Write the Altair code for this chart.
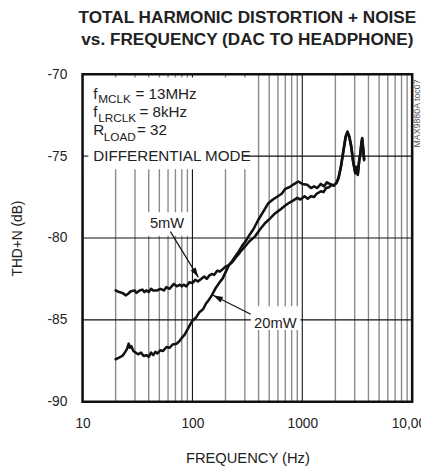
import altair as alt
import pandas as pd

# ---------------- data ----------------
freq_5mw = [20, 21.5, 23, 24.7, 26, 27.5, 29.7, 31, 33, 35, 36.5, 38, 40, 42, 44, 47.7, 51, 55, 58, 62,
            67.7, 72, 77, 80, 83, 88, 94, 100, 106, 112, 120, 128, 135, 142, 150, 158, 168, 178, 189,
            200, 215, 232, 247, 262, 280, 303, 330, 372, 410, 457, 510, 564, 620, 690, 760, 830, 899,
            960, 1050, 1120, 1195, 1280, 1350, 1475, 1560, 1650, 1750, 1849, 1931, 2050, 2138, 2250,
            2371, 2480, 2576, 2680, 2795, 2900, 3034, 3100, 3200, 3300, 3363, 3450, 3508, 3580, 3652]
thd_5mw = [-83.2, -83.3, -83.35, -83.5, -83.4, -83.25, -83.2, -83.35, -83.2, -83.15, -83.3, -83.2,
           -83.3, -83.1, -83.2, -83.2, -83.1, -83.2, -83.0, -83.1, -82.8, -82.95, -82.85, -82.95,
           -82.85, -82.95, -82.7, -82.75, -82.55, -82.65, -82.5, -82.35, -82.5, -82.3, -82.2, -82.25,
           -82.0, -82.05, -81.9, -81.75, -81.65, -81.45, -81.2, -81.0, -80.75, -80.5, -80.2, -79.9,
           -79.5, -79.1, -78.8, -78.5, -78.3, -78.05, -77.85, -77.7, -77.55, -77.65, -77.45, -77.6,
           -77.45, -77.5, -77.3, -77.15, -77.2, -76.95, -76.9, -76.75, -76.8, -76.65, -76.35, -75.65,
           -74.7, -73.85, -73.55, -73.85, -74.5, -75.35, -76.05, -75.65, -76.15, -75.25, -74.95,
           -74.25, -73.95, -74.55, -75.25]

freq_20mw = [20, 21.5, 23, 24.2, 25.3, 26.3, 27, 27.8, 29, 30.5, 32, 34, 36, 38, 40, 42, 44, 46, 48,
             51, 54, 58, 62, 66, 72, 76, 80, 85, 90, 95, 100, 108, 115, 125, 133, 142, 150, 163, 175,
             189, 200, 213, 230, 247, 265, 285, 305, 324, 360, 397, 440, 488, 540, 600, 649, 700, 760,
             848, 920, 1000, 1108, 1200, 1279, 1370, 1475, 1580, 1672, 1780, 1931, 2050, 2138, 2250,
             2371, 2480, 2576, 2680, 2795, 2900, 3034, 3100, 3200, 3300, 3363, 3450, 3508, 3580, 3652]
thd_20mw = [-87.4, -87.3, -87.2, -87.0, -86.8, -86.45, -86.7, -86.6, -86.9, -87.0, -87.1, -87.0,
            -87.2, -87.15, -87.25, -87.0, -87.15, -86.95, -87.05, -86.85, -86.9, -86.65, -86.7, -86.5,
            -86.45, -86.3, -86.1, -85.9, -85.6, -85.3, -85.05, -84.85, -84.55, -84.35, -84.0, -83.75,
            -83.5, -83.05, -82.75, -82.45, -82.1, -81.7, -81.4, -81.1, -80.8, -80.45, -80.2, -79.9,
            -79.45, -78.9, -78.4, -77.9, -77.65, -77.45, -77.3, -77.0, -76.9, -76.7, -76.55, -76.7,
            -76.75, -76.95, -76.85, -76.95, -76.7, -76.85, -76.6, -76.7, -76.8, -76.6, -76.3, -75.6,
            -74.6, -73.8, -73.5, -73.8, -74.4, -75.3, -76.0, -75.7, -76.1, -75.2, -74.9, -74.2, -73.9,
            -74.5, -75.2]

x_ticks = [10, 100, 1000, 10000]
y_ticks = [-70, -75, -80, -85, -90]
minor_freqs = [20, 30, 40, 50, 60, 70, 80, 90, 200, 300, 400, 500, 600, 700, 800, 900,
               2000, 3000, 4000, 5000, 6000, 7000, 8000, 9000]
major_freqs = [100, 1000]

# horizontal grid segments (broken where the labels sit)
hgrid_y = [-75, -75, -80, -85, -85]
hgrid_x0 = [10, 294, 10, 10, 960]
hgrid_x1 = [11.3, 10000, 10000, 340, 10000]

# white label backgrounds
box_x0 = [10, 35, 340]
box_x1 = [360, 95, 960]
box_y0 = [-70.2, -78.43, -84.17]
box_y1 = [-75.8, -79.87, -85.61]

# conditions text (text, freq, dB baseline, size)
cond_text = ["f", "MCLK", "= 13MHz", "f", "LRCLK", "= 8kHz", "R", "LOAD", "= 32", "DIFFERENTIAL MODE"]
cond_f = [12.54, 13.9, 30.3, 12.54, 13.9, 32.9, 12.54, 15.6, 31.3, 12.54]
cond_db = [-71.5, -71.75, -71.5, -72.63, -72.93, -72.63, -73.73, -74.05, -73.73, -75.32]
cond_size = [15.5, 12, 15.5, 15.5, 12, 15.5, 15.5, 12, 15.5, 15.5]

# series labels and arrows
lab_text = ["5mW", "20mW"]
lab_f = [58.8, 568]
lab_db = [-79.39, -85.49]
arr_f0 = [63.0, 339.6]
arr_db0 = [-79.61, -84.65]
arr_f1 = [113.2, 154.2]
arr_db1 = [-82.40, -83.50]
arr_angle = [148.6, 296.7]

# ---------------- tables ----------------
curves = pd.concat([
    pd.DataFrame({"f": freq_5mw, "db": thd_5mw, "s": "5mW"}),
    pd.DataFrame({"f": freq_20mw, "db": thd_20mw, "s": "20mW"}),
])
minor_df = pd.DataFrame({"f": minor_freqs})
major_df = pd.DataFrame({"f": major_freqs})
hgrid_df = pd.DataFrame({"y": hgrid_y, "x0": hgrid_x0, "x1": hgrid_x1})
box_df = pd.DataFrame({"x0": box_x0, "x1": box_x1, "y0": box_y0, "y1": box_y1})
cond_df = pd.DataFrame({"t": cond_text, "f": cond_f, "db": cond_db, "size": cond_size})
lab_df = pd.DataFrame({"t": lab_text, "f": lab_f, "db": lab_db})
arr_df = pd.DataFrame({"x0": arr_f0, "y0": arr_db0, "x1": arr_f1, "y1": arr_db1, "a": arr_angle})
wm_df = pd.DataFrame({"t": ["MAX9880A toc07"], "f": [11070], "db": [-72.4]})

FONT = "Liberation Sans"
xs = alt.Scale(type="log", domain=[10, 10000], nice=False)
ys = alt.Scale(domain=[-90, -70], nice=False)

x_axis = alt.Axis(values=x_ticks, labelExpr="datum.value == 10000 ? '10,000' : toString(datum.value)",
                  labelFlush=False, ticks=False, domain=False, grid=False, labelFontSize=14,
                  labelColor="#222", labelPadding=15, labelFont=FONT,
                  title="FREQUENCY (Hz)", titleFontSize=15, titleFontWeight="normal", titleColor="#222",
                  titleFont=FONT, titleY=62, titleBaseline="alphabetic")
y_axis = alt.Axis(values=y_ticks, labelExpr="toString(datum.value)", ticks=False, domain=False,
                  grid=False, labelFontSize=14, labelColor="#222", labelPadding=16, labelFont=FONT,
                  title="THD+N (dB)", titleFontSize=14, titleFontWeight="normal", titleColor="#222",
                  titleFont=FONT, titleX=-66, titleY=167, titleAngle=270, titleAlign="center",
                  titleBaseline="middle")

def X(field):
    return alt.X(field, type="quantitative", scale=xs, axis=x_axis, title="FREQUENCY (Hz)")

def Y(field):
    return alt.Y(field, type="quantitative", scale=ys, axis=y_axis, title="THD+N (dB)")

minor = alt.Chart(minor_df).mark_rule(color="#8a8a8a", strokeWidth=1.4).encode(x=X("f"))
major = alt.Chart(major_df).mark_rule(color="#111", strokeWidth=1.1).encode(x=X("f"))
axis_holder = alt.Chart(pd.DataFrame({"v": [-80]})).mark_rule(opacity=0).encode(y=Y("v"))
boxes = alt.Chart(box_df).mark_rect(color="white").encode(x=X("x0"), x2="x1", y=Y("y0"), y2="y1")
hgrid = alt.Chart(hgrid_df).mark_rule(color="#111", strokeWidth=1.1).encode(x=X("x0"), x2="x1", y=Y("y"))
lines = alt.Chart(curves).mark_line(strokeWidth=2.6, strokeJoin="round", strokeCap="round").encode(
    x=X("f"), y=Y("db"),
    detail="s:N",
    color=alt.value("#111"),
    order=alt.Order("f:Q"),
)
cond = alt.Chart(cond_df).mark_text(align="left", baseline="alphabetic", font=FONT, color="#222").encode(
    x=X("f"), y=Y("db"), text="t:N", size=alt.Size("size:Q", scale=None)
)
labs = alt.Chart(lab_df).mark_text(align="center", baseline="alphabetic", font=FONT, fontSize=15,
                                    color="#222").encode(x=X("f"), y=Y("db"), text="t:N")
arr_lines = alt.Chart(arr_df).mark_rule(color="#111", strokeWidth=1.2).encode(
    x=X("x0"), x2="x1", y=Y("y0"), y2="y1")
arr_heads = alt.Chart(arr_df).mark_point(shape="M0,0 L0.3,1 L-0.3,1 Z", filled=True, size=400,
                                          color="#111", opacity=1).encode(
    x=X("x1"), y=Y("y1"), angle=alt.Angle("a:Q", scale=None))
wm = alt.Chart(wm_df).mark_text(angle=270, align="center", baseline="middle", font=FONT, fontSize=9,
                                color="#555").encode(x=X("f"), y=Y("db"), text="t:N")
frame_df = pd.DataFrame({"x0": [10], "x1": [10000], "y0": [-70], "y1": [-90]})
frame = alt.Chart(frame_df).mark_rect(fillOpacity=0, stroke="#111", strokeWidth=2.6).encode(
    x=X("x0"), x2="x1", y=Y("y0"), y2="y1")

chart = alt.layer(minor, major, axis_holder, boxes, hgrid, lines, cond, labs, arr_lines, arr_heads, wm,
                  frame).properties(
    width=336, height=334,
    autosize=alt.AutoSizeParams(type="none"),
    padding={"left": 76, "top": 63, "right": 9, "bottom": 63},
    title=alt.TitleParams(text=["TOTAL HARMONIC DISTORTION + NOISE", "vs. FREQUENCY (DAC TO HEADPHONE)"],
                          font=FONT, fontSize=17.5, fontWeight="bold", color="#222", anchor="middle",
                          lineHeight=23, offset=19),
).configure_view(strokeWidth=0).configure(background="white")

chart.save("out.html", embed_options={"renderer": "svg", "actions": False})
